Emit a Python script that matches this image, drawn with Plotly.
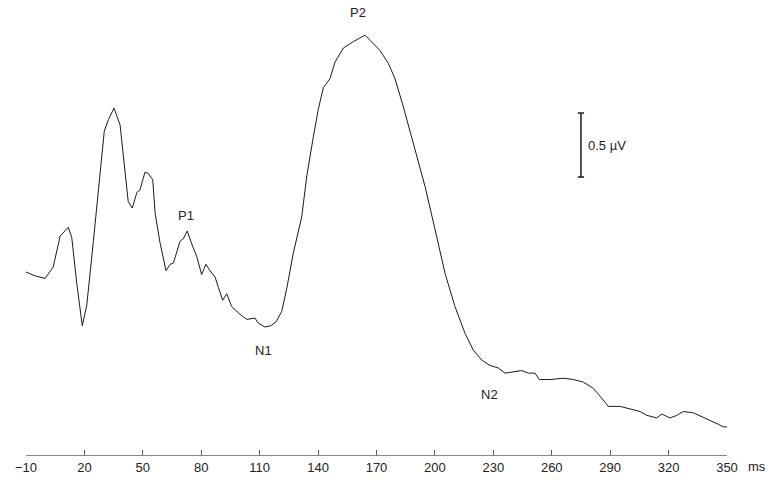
import plotly.graph_objects as go

# ERP waveform: time (ms) and amplitude (µV, relative)
time_ms = [-10, -5.4, -0.2, 4.0, 7.5, 11.7, 13.5, 16.0, 18.9, 21.2, 24.6, 28.0, 30.2, 32.3, 35.2,
           38.3, 40.3, 42.5, 44.6, 46.9, 48.5, 51.1, 52.8, 55.1, 56.3, 58.8, 61.9, 64.0, 65.7,
           69.1, 70.8, 72.8, 75.1, 77.7, 80.2, 82.4, 84.5, 87.1, 88.8, 91.0, 93.1, 95.6, 99.9,
           103.4, 107.6, 109.3, 112.7, 115.7, 118.4, 121.3, 123.9, 127.3, 131.6, 134.2, 137.6,
           140.1, 142.7, 146.1, 148.7, 153.0, 158.1, 160.7, 164.1, 166.7, 171.8, 176.1, 179.5,
           183.8, 188.9, 194.9, 200.1, 205.2, 210.3, 215.5, 219.7, 224.2, 228.3, 232.6, 236.0,
           239.5, 244.6, 248.0, 251.4, 253.6, 259.1, 266.0, 271.1, 276.2, 281.4, 284.8, 289.1,
           295.1, 300.2, 305.4, 308.8, 313.9, 316.5, 320.8, 324.2, 327.6, 332.7, 337.9, 341.3,
           345.6, 348.1, 350]
amp_uv = [0.00, -0.03, -0.05, 0.04, 0.28, 0.35, 0.27, -0.08, -0.42, -0.26, 0.24, 0.73, 1.10, 1.19,
          1.28, 1.15, 0.86, 0.55, 0.50, 0.62, 0.64, 0.78, 0.77, 0.72, 0.46, 0.23, 0.01, 0.06, 0.07,
          0.24, 0.26, 0.32, 0.22, 0.12, -0.02, 0.06, 0.01, -0.04, -0.12, -0.22, -0.17, -0.27, -0.33,
          -0.37, -0.36, -0.40, -0.43, -0.42, -0.39, -0.31, -0.13, 0.15, 0.43, 0.75, 1.06, 1.27,
          1.44, 1.51, 1.64, 1.75, 1.80, 1.82, 1.85, 1.81, 1.73, 1.63, 1.51, 1.29, 1.01, 0.67, 0.33,
          -0.01, -0.27, -0.48, -0.61, -0.69, -0.73, -0.75, -0.79, -0.78, -0.77, -0.79, -0.79, -0.84,
          -0.84, -0.83, -0.84, -0.86, -0.91, -0.97, -1.05, -1.05, -1.07, -1.09, -1.12, -1.14, -1.11,
          -1.14, -1.12, -1.09, -1.10, -1.14, -1.16, -1.19, -1.21, -1.21]

tick_vals = [-10, 20, 50, 80, 110, 140, 170, 200, 230, 260, 290, 320, 350]
tick_text = ["\u221210", "20", "50", "80", "110", "140", "170", "200", "230", "260", "290", "320", "350"]

peak_names = ["P1", "N1", "P2", "N2"]
peak_t = [72.2, 112.2, 160.5, 227.8]
peak_a = [0.44, -0.61, 2.03, -0.96]

scale_t = 275.0
scale_lo = 0.742
scale_hi = 1.242
scale_label = "0.5 \u00b5V"

FONT = "Liberation Sans, Arial, sans-serif"

fig = go.Figure()
fig.add_trace(go.Scatter(x=time_ms, y=amp_uv, mode="lines",
                         line=dict(color="#1a1a1a", width=1), hoverinfo="skip",
                         showlegend=False))

# scale bar
fig.add_trace(go.Scatter(x=[scale_t, scale_t], y=[scale_lo, scale_hi], mode="lines",
                         line=dict(color="#1a1a1a", width=1.5), showlegend=False, hoverinfo="skip"))
for yv in (scale_lo, scale_hi):
    fig.add_trace(go.Scatter(x=[scale_t - 1.6, scale_t + 1.6], y=[yv, yv], mode="lines",
                             line=dict(color="#1a1a1a", width=1.5), showlegend=False, hoverinfo="skip"))
fig.add_annotation(x=scale_t + 2.7, y=(scale_lo + scale_hi) / 2, text=scale_label,
                   showarrow=False, xanchor="left", yanchor="middle",
                   font=dict(family=FONT, size=13, color="#222"))

for n, t, a in zip(peak_names, peak_t, peak_a):
    fig.add_annotation(x=t, y=a, text=n, showarrow=False, xanchor="center", yanchor="middle",
                       font=dict(family=FONT, size=13, color="#222"))

fig.add_annotation(x=1, y=0, xref="paper", yref="paper", text="ms", showarrow=False,
                   xanchor="left", yanchor="top", xshift=19, yshift=-2,
                   font=dict(family=FONT, size=13, color="#222"))

fig.update_layout(
    width=769, height=488,
    margin=dict(l=26, r=42, t=10, b=33),
    paper_bgcolor="white", plot_bgcolor="white",
    xaxis=dict(range=[-10, 350], tickmode="array", tickvals=tick_vals, ticktext=tick_text,
               ticks="inside", ticklen=5, tickcolor="#555", showline=True, linecolor="#888",
               linewidth=1, showgrid=False, zeroline=False,
               tickfont=dict(family=FONT, size=13, color="#222")),
    yaxis=dict(range=[(272 - 455) / 128, (272 - 10) / 128], visible=False,
               showgrid=False, zeroline=False),
)

# remove the browser's default 8px body margin so the 769x488 figure fills the window exactly
fig.write_html("out.html",
               config={"displayModeBar": False},
               post_script="document.body.style.margin='0';document.body.style.overflow='hidden';")
